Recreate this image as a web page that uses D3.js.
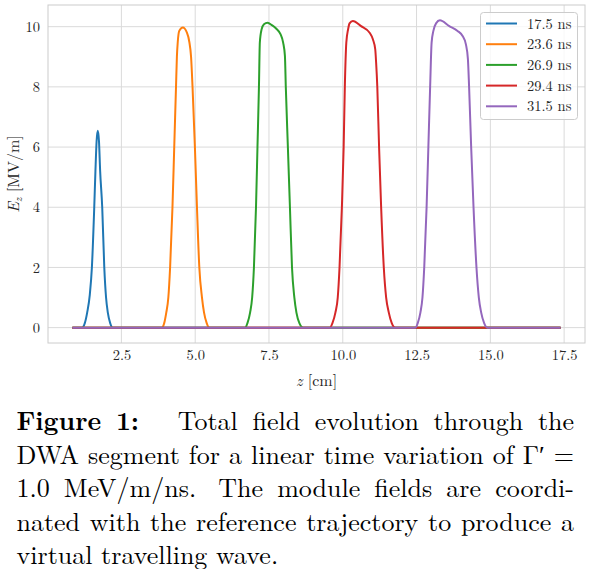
<!DOCTYPE html>
<html>
<head>
<meta charset="utf-8">
<script src="https://cdn.jsdelivr.net/npm/d3@7"></script>
<style>
  body { margin: 0; background: #fff; }
  svg { display: block; }
</style>
</head>
<body>
<div id="svgdiv"></div>
<script>
// values (z in cm, E in MV/m)
var labels = ["17.5 ns", "23.6 ns", "26.9 ns", "29.4 ns", "31.5 ns"];
var colors = ["#1f77b4", "#ff7f0e", "#2ca02c", "#d62728", "#9467bd"];

var z175 = [0.84, 1.17, 1.26, 1.34, 1.43, 1.50, 1.58, 1.62, 1.66, 1.70, 1.74, 1.78, 1.85, 1.92, 1.98, 2.04, 2.12, 2.20, 17.38];
var e175 = [0, 0, 0.15, 0.5, 1.1, 2.0, 4.0, 5.2, 6.2, 6.54, 6.2, 5.2, 4.0, 2.0, 1.0, 0.5, 0.15, 0, 0];

var z236 = [0.84, 3.87, 3.95, 4.02, 4.09, 4.15, 4.23, 4.29, 4.35, 4.38, 4.41, 4.46, 4.58, 4.72, 4.80, 4.86, 4.91, 4.99, 5.06, 5.14, 5.23, 5.30, 5.39, 5.48, 17.38];
var e236 = [0, 0, 0.15, 0.5, 1.0, 2.0, 4.0, 6.0, 8.0, 9.0, 9.5, 9.86, 9.97, 9.80, 9.5, 9.0, 8.0, 6.0, 4.0, 2.0, 1.0, 0.5, 0.15, 0, 0];

var z269 = [0.84, 6.69, 6.77, 6.86, 6.93, 6.99, 7.06, 7.11, 7.16, 7.19, 7.25, 7.33, 7.45, 7.60, 7.75, 7.89, 7.98, 8.04, 8.07, 8.14, 8.21, 8.28, 8.36, 8.43, 8.53, 8.66, 17.38];
var e269 = [0, 0, 0.15, 0.5, 1.0, 2.0, 4.0, 6.0, 8.0, 9.47, 9.91, 10.08, 10.13, 10.05, 9.93, 9.75, 9.47, 9.03, 8.0, 6.0, 4.0, 2.0, 1.0, 0.5, 0.15, 0, 0];

var z294 = [0.84, 9.56, 9.65, 9.75, 9.83, 9.89, 9.97, 10.03, 10.07, 10.12, 10.18, 10.23, 10.34, 10.62, 10.91, 11.02, 11.10, 11.13, 11.17, 11.23, 11.30, 11.39, 11.47, 11.56, 11.66, 11.78, 17.38];
var e294 = [0, 0, 0.15, 0.5, 1.0, 2.0, 4.0, 6.0, 8.0, 9.47, 9.91, 10.11, 10.19, 10.02, 9.80, 9.58, 9.25, 8.81, 8.0, 6.0, 4.0, 2.0, 1.0, 0.5, 0.15, 0, 0];

var z315 = [0.84, 12.46, 12.54, 12.63, 12.70, 12.76, 12.84, 12.90, 12.96, 13.01, 13.07, 13.16, 13.29, 13.61, 13.89, 14.06, 14.17, 14.24, 14.28, 14.35, 14.43, 14.53, 14.61, 14.69, 14.79, 14.90, 17.38];
var e315 = [0, 0, 0.15, 0.5, 1.0, 2.0, 4.0, 6.0, 8.0, 9.47, 9.86, 10.11, 10.21, 10.02, 9.86, 9.69, 9.42, 8.92, 8.0, 6.0, 4.0, 2.0, 1.0, 0.5, 0.15, 0, 0];

var xTicks = [2.5, 5.0, 7.5, 10.0, 12.5, 15.0, 17.5];
var yTicks = [0, 2, 4, 6, 8, 10];

var captionLines = [
    ["Figure", "1:", "Total", "field", "evolution", "through", "the"],
    ["DWA", "segment", "for", "a", "linear", "time", "variation", "of", "Γ′", "="],
    ["1.0", "MeV/m/ns.", "The", "module", "fields", "are", "coordi-"],
    ["nated", "with", "the", "reference", "trajectory", "to", "produce", "a"],
    ["virtual", "travelling", "wave."]
];

var FONT = "'Latin Modern Roman', 'CMU Serif', 'Liberation Serif', serif";
var INK = "#262626";

var zs = [z175, z236, z269, z294, z315];
var es = [e175, e236, e269, e294, e315];
var series = labels.map((l, i) => ({
    label: l,
    color: colors[i],
    points: zs[i].map((z, j) => [z, es[i][j]])
}));

var W = 591, H = 569;
var plot = { left: 48, right: 585, top: 5, bottom: 343 };

var svg = d3.select("#svgdiv").append("svg")
    .attr("width", W)
    .attr("height", H);

// matplotlib style 5% margins
var zmin = d3.min(zs, a => d3.min(a)), zmax = d3.max(zs, a => d3.max(a));
var emin = d3.min(es, a => d3.min(a)), emax = d3.max(es, a => d3.max(a));
var zpad = (zmax - zmin) * 0.05, epad = (emax - emin) * 0.05;

var x = d3.scaleLinear().domain([zmin - zpad, zmax + zpad]).range([plot.left, plot.right]);
var y = d3.scaleLinear().domain([emin - epad, emax + epad]).range([plot.bottom, plot.top]);

// grid
var grid = svg.append("g");
grid.selectAll("line.gx").data(xTicks).enter().append("line")
    .attr("x1", d => x(d)).attr("x2", d => x(d))
    .attr("y1", plot.top).attr("y2", plot.bottom)
    .style("stroke", "#dadada").style("stroke-width", "1px");
grid.selectAll("line.gy").data(yTicks).enter().append("line")
    .attr("x1", plot.left).attr("x2", plot.right)
    .attr("y1", d => y(d)).attr("y2", d => y(d))
    .style("stroke", "#dadada").style("stroke-width", "1px");

// axes (labels only, no tick marks)
svg.append("g")
    .attr("transform", "translate(0," + plot.bottom + ")")
    .call(d3.axisBottom(x).tickValues(xTicks).tickSize(0).tickPadding(7).tickFormat(d3.format(".1f")));
svg.append("g")
    .attr("transform", "translate(" + plot.left + ",0)")
    .call(d3.axisLeft(y).tickValues(yTicks).tickSize(0).tickPadding(8).tickFormat(d3.format("d")));
svg.selectAll(".domain").remove();
svg.selectAll(".tick text")
    .style("font-family", FONT)
    .style("font-size", "14.5px")
    .style("fill", INK);

// frame
svg.append("rect")
    .attr("x", plot.left).attr("y", plot.top)
    .attr("width", plot.right - plot.left).attr("height", plot.bottom - plot.top)
    .style("fill", "none").style("stroke", "#cccccc").style("stroke-width", "1px");

// curves
var line = d3.line()
    .x(d => x(d[0]))
    .y(d => y(d[1]))
    .curve(d3.curveMonotoneX);

svg.append("g")
    .selectAll("path")
    .data(series)
    .enter().append("path")
    .attr("d", d => line(d.points))
    .style("fill", "none")
    .style("stroke", d => d.color)
    .style("stroke-width", "2px")
    .style("stroke-linejoin", "round");

// axis labels
svg.append("text")
    .attr("x", (plot.left + plot.right) / 2)
    .attr("y", 386)
    .attr("text-anchor", "middle")
    .style("font-family", FONT).style("font-size", "16px").style("fill", INK)
    .html('<tspan font-style="italic">z</tspan> [cm]');

svg.append("text")
    .attr("transform", "translate(19," + ((plot.top + plot.bottom) / 2) + ") rotate(-90)")
    .attr("text-anchor", "middle")
    .style("font-family", FONT).style("font-size", "16px").style("fill", INK)
    .html('<tspan font-style="italic">E</tspan><tspan font-style="italic" font-size="11" dy="3">z</tspan><tspan dy="-3"> [MV/m]</tspan>');

// legend
var legend = svg.append("g").attr("class", "legend");
legend.append("rect")
    .attr("x", 480.5).attr("y", 12.5)
    .attr("width", 97).attr("height", 107)
    .attr("rx", 3)
    .style("fill", "#ffffff").style("fill-opacity", 0.8)
    .style("stroke", "#cccccc").style("stroke-width", "1px");

var entry = legend.selectAll("g.entry")
    .data(series)
    .enter().append("g")
    .attr("transform", (d, i) => "translate(0," + (23.5 + i * 20.7) + ")");
entry.append("line")
    .attr("x1", 486).attr("x2", 517)
    .style("stroke", d => d.color).style("stroke-width", "2px");
entry.append("text")
    .attr("x", 527)
    .attr("dy", "0.35em")
    .style("font-family", FONT).style("font-size", "14.5px").style("fill", INK)
    .text(d => d.label);

// caption, justified word by word
var capLeft = 16.5, capRight = 574, capSize = 26;
var baselines = [430, 463.6, 497.2, 530.8, 563.8];
captionLines.forEach(function (words, li) {
    var g = svg.append("g");
    var nodes = words.map(function (w, wi) {
        return g.append("text")
            .attr("y", baselines[li])
            .style("font-family", FONT)
            .style("font-size", capSize + "px")
            .style("font-weight", (li === 0 && wi < 2) ? "bold" : "normal")
            .style("fill", "#000")
            .text(w);
    });
    var widths = nodes.map(n => n.node().getComputedTextLength());
    var total = d3.sum(widths);
    // wider space after "1:" and after sentence ends
    var extra = words.map((w, wi) => (li === 0 && wi === 1) ? 24 : (/\.$/.test(w) && wi < words.length - 1 ? 8 : 0));
    var gap = li === captionLines.length - 1 ? capSize * 0.333 :
        (capRight - capLeft - total - d3.sum(extra)) / (words.length - 1);
    var cx = capLeft;
    nodes.forEach(function (n, i) {
        n.attr("x", cx);
        cx += widths[i] + gap + extra[i];
    });
});
</script>
</body>
</html>
